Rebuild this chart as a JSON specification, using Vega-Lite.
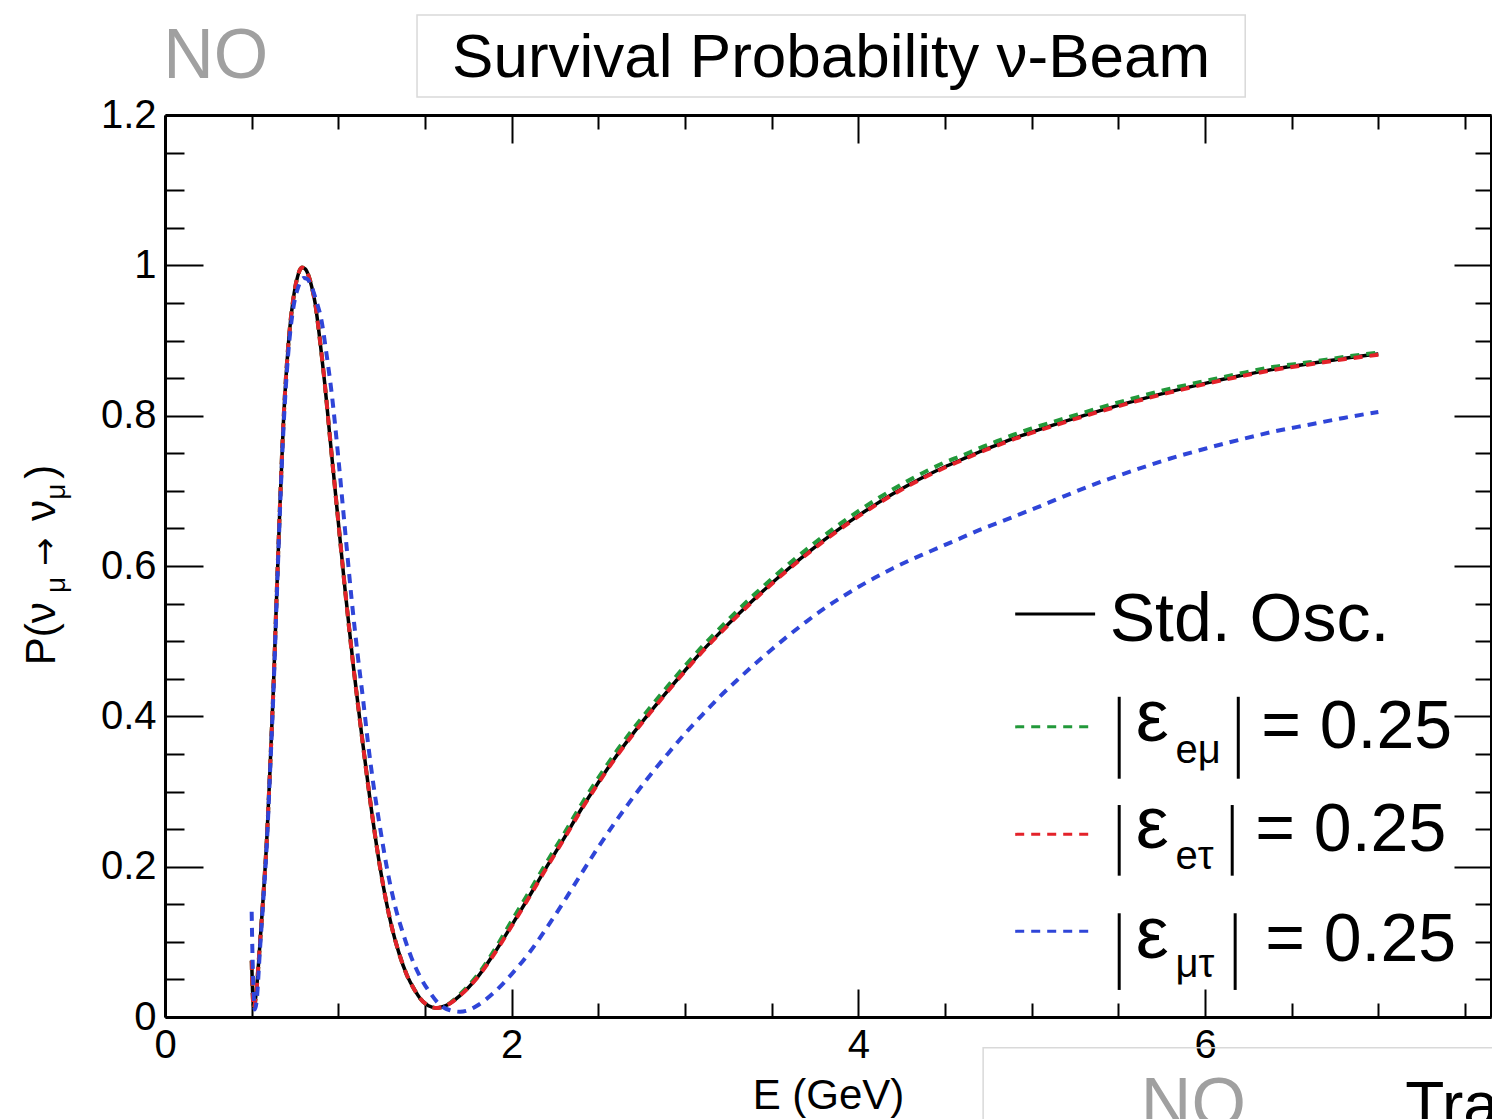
{
  "$schema": "https://vega.github.io/schema/vega-lite/v6.json",
  "width": 1326,
  "height": 902,
  "autosize": {"type": "none"},
  "padding": {"left": 165, "top": 115, "right": 1, "bottom": 102},
  "background": "white",
  "config": {"view": {"stroke": null}, "font": "Liberation Sans"},
  "datasets": {
    "curves": [
      {"E":0.5,"P":0.075,"s":"std"},{"E":0.505,"P":0.035,"s":"std"},{"E":0.513,"P":0.012,"s":"std"},{"E":0.525,"P":0.03,"s":"std"},{"E":0.548,"P":0.098,"s":"std"},{"E":0.567,"P":0.16,"s":"std"},{"E":0.587,"P":0.235,"s":"std"},{"E":0.606,"P":0.33,"s":"std"},{"E":0.625,"P":0.435,"s":"std"},{"E":0.644,"P":0.56,"s":"std"},{"E":0.664,"P":0.685,"s":"std"},{"E":0.683,"P":0.79,"s":"std"},{"E":0.71,"P":0.89,"s":"std"},{"E":0.74,"P":0.955,"s":"std"},{"E":0.765,"P":0.985,"s":"std"},{"E":0.79,"P":0.997,"s":"std"},{"E":0.81,"P":0.995,"s":"std"},{"E":0.83,"P":0.985,"s":"std"},{"E":0.846,"P":0.972,"s":"std"},{"E":0.866,"P":0.95,"s":"std"},{"E":0.894,"P":0.9,"s":"std"},{"E":0.923,"P":0.84,"s":"std"},{"E":0.95,"P":0.775,"s":"std"},{"E":0.98,"P":0.705,"s":"std"},{"E":1.01,"P":0.635,"s":"std"},{"E":1.039,"P":0.568,"s":"std"},{"E":1.087,"P":0.466,"s":"std"},{"E":1.135,"P":0.375,"s":"std"},{"E":1.183,"P":0.289,"s":"std"},{"E":1.24,"P":0.2,"s":"std"},{"E":1.308,"P":0.12,"s":"std"},{"E":1.35,"P":0.085,"s":"std"},{"E":1.395,"P":0.056,"s":"std"},{"E":1.44,"P":0.036,"s":"std"},{"E":1.471,"P":0.025,"s":"std"},{"E":1.52,"P":0.015,"s":"std"},{"E":1.568,"P":0.012,"s":"std"},{"E":1.62,"P":0.015,"s":"std"},{"E":1.7,"P":0.028,"s":"std"},{"E":1.8,"P":0.052,"s":"std"},{"E":1.9,"P":0.085,"s":"std"},{"E":2.0,"P":0.122,"s":"std"},{"E":2.1,"P":0.16,"s":"std"},{"E":2.2,"P":0.199,"s":"std"},{"E":2.3,"P":0.237,"s":"std"},{"E":2.4,"P":0.276,"s":"std"},{"E":2.5,"P":0.312,"s":"std"},{"E":2.6,"P":0.346,"s":"std"},{"E":2.7,"P":0.377,"s":"std"},{"E":2.8,"P":0.406,"s":"std"},{"E":2.9,"P":0.434,"s":"std"},{"E":3.0,"P":0.461,"s":"std"},{"E":3.1,"P":0.487,"s":"std"},{"E":3.2,"P":0.511,"s":"std"},{"E":3.3,"P":0.534,"s":"std"},{"E":3.4,"P":0.556,"s":"std"},{"E":3.5,"P":0.577,"s":"std"},{"E":3.6,"P":0.597,"s":"std"},{"E":3.7,"P":0.616,"s":"std"},{"E":3.8,"P":0.634,"s":"std"},{"E":3.9,"P":0.651,"s":"std"},{"E":4.0,"P":0.667,"s":"std"},{"E":4.1,"P":0.682,"s":"std"},{"E":4.2,"P":0.696,"s":"std"},{"E":4.3,"P":0.709,"s":"std"},{"E":4.4,"P":0.721,"s":"std"},{"E":4.5,"P":0.732,"s":"std"},{"E":4.6,"P":0.742,"s":"std"},{"E":4.7,"P":0.752,"s":"std"},{"E":4.8,"P":0.761,"s":"std"},{"E":4.9,"P":0.77,"s":"std"},{"E":5.0,"P":0.778,"s":"std"},{"E":5.2,"P":0.793,"s":"std"},{"E":5.4,"P":0.807,"s":"std"},{"E":5.6,"P":0.82,"s":"std"},{"E":5.8,"P":0.832,"s":"std"},{"E":6.0,"P":0.843,"s":"std"},{"E":6.2,"P":0.853,"s":"std"},{"E":6.4,"P":0.862,"s":"std"},{"E":6.6,"P":0.869,"s":"std"},{"E":6.8,"P":0.876,"s":"std"},{"E":7.0,"P":0.882,"s":"std"},

      {"E":0.5,"P":0.075,"s":"emu"},{"E":0.505,"P":0.035,"s":"emu"},{"E":0.513,"P":0.012,"s":"emu"},{"E":0.525,"P":0.03,"s":"emu"},{"E":0.548,"P":0.098,"s":"emu"},{"E":0.567,"P":0.16,"s":"emu"},{"E":0.587,"P":0.235,"s":"emu"},{"E":0.606,"P":0.33,"s":"emu"},{"E":0.625,"P":0.435,"s":"emu"},{"E":0.644,"P":0.56,"s":"emu"},{"E":0.664,"P":0.685,"s":"emu"},{"E":0.683,"P":0.79,"s":"emu"},{"E":0.71,"P":0.89,"s":"emu"},{"E":0.74,"P":0.955,"s":"emu"},{"E":0.765,"P":0.985,"s":"emu"},{"E":0.79,"P":0.997,"s":"emu"},{"E":0.81,"P":0.995,"s":"emu"},{"E":0.83,"P":0.985,"s":"emu"},{"E":0.846,"P":0.972,"s":"emu"},{"E":0.866,"P":0.95,"s":"emu"},{"E":0.894,"P":0.9,"s":"emu"},{"E":0.923,"P":0.84,"s":"emu"},{"E":0.95,"P":0.775,"s":"emu"},{"E":0.98,"P":0.705,"s":"emu"},{"E":1.01,"P":0.635,"s":"emu"},{"E":1.039,"P":0.568,"s":"emu"},{"E":1.087,"P":0.466,"s":"emu"},{"E":1.135,"P":0.375,"s":"emu"},{"E":1.183,"P":0.289,"s":"emu"},{"E":1.24,"P":0.2,"s":"emu"},{"E":1.308,"P":0.12,"s":"emu"},{"E":1.35,"P":0.085,"s":"emu"},{"E":1.395,"P":0.056,"s":"emu"},{"E":1.44,"P":0.036,"s":"emu"},{"E":1.471,"P":0.025,"s":"emu"},{"E":1.52,"P":0.015,"s":"emu"},{"E":1.568,"P":0.012,"s":"emu"},{"E":1.62,"P":0.015,"s":"emu"},{"E":1.7,"P":0.03,"s":"emu"},{"E":1.8,"P":0.055,"s":"emu"},{"E":1.9,"P":0.089,"s":"emu"},{"E":2.0,"P":0.128,"s":"emu"},{"E":2.1,"P":0.166,"s":"emu"},{"E":2.2,"P":0.205,"s":"emu"},{"E":2.3,"P":0.243,"s":"emu"},{"E":2.4,"P":0.282,"s":"emu"},{"E":2.5,"P":0.318,"s":"emu"},{"E":2.6,"P":0.352,"s":"emu"},{"E":2.7,"P":0.383,"s":"emu"},{"E":2.8,"P":0.412,"s":"emu"},{"E":2.9,"P":0.44,"s":"emu"},{"E":3.0,"P":0.467,"s":"emu"},{"E":3.1,"P":0.493,"s":"emu"},{"E":3.2,"P":0.517,"s":"emu"},{"E":3.3,"P":0.54,"s":"emu"},{"E":3.4,"P":0.562,"s":"emu"},{"E":3.5,"P":0.583,"s":"emu"},{"E":3.6,"P":0.603,"s":"emu"},{"E":3.7,"P":0.622,"s":"emu"},{"E":3.8,"P":0.64,"s":"emu"},{"E":3.9,"P":0.657,"s":"emu"},{"E":4.0,"P":0.673,"s":"emu"},{"E":4.1,"P":0.688,"s":"emu"},{"E":4.2,"P":0.702,"s":"emu"},{"E":4.3,"P":0.715,"s":"emu"},{"E":4.4,"P":0.727,"s":"emu"},{"E":4.5,"P":0.738,"s":"emu"},{"E":4.6,"P":0.747,"s":"emu"},{"E":4.7,"P":0.757,"s":"emu"},{"E":4.8,"P":0.766,"s":"emu"},{"E":4.9,"P":0.775,"s":"emu"},{"E":5.0,"P":0.783,"s":"emu"},{"E":5.2,"P":0.797,"s":"emu"},{"E":5.4,"P":0.811,"s":"emu"},{"E":5.6,"P":0.824,"s":"emu"},{"E":5.8,"P":0.836,"s":"emu"},{"E":6.0,"P":0.846,"s":"emu"},{"E":6.2,"P":0.856,"s":"emu"},{"E":6.4,"P":0.865,"s":"emu"},{"E":6.6,"P":0.871,"s":"emu"},{"E":6.8,"P":0.878,"s":"emu"},{"E":7.0,"P":0.884,"s":"emu"},

      {"E":0.5,"P":0.075,"s":"etau"},{"E":0.505,"P":0.035,"s":"etau"},{"E":0.513,"P":0.012,"s":"etau"},{"E":0.525,"P":0.03,"s":"etau"},{"E":0.548,"P":0.098,"s":"etau"},{"E":0.567,"P":0.16,"s":"etau"},{"E":0.587,"P":0.235,"s":"etau"},{"E":0.606,"P":0.33,"s":"etau"},{"E":0.625,"P":0.435,"s":"etau"},{"E":0.644,"P":0.56,"s":"etau"},{"E":0.664,"P":0.685,"s":"etau"},{"E":0.683,"P":0.79,"s":"etau"},{"E":0.71,"P":0.89,"s":"etau"},{"E":0.74,"P":0.955,"s":"etau"},{"E":0.765,"P":0.985,"s":"etau"},{"E":0.79,"P":0.997,"s":"etau"},{"E":0.81,"P":0.995,"s":"etau"},{"E":0.83,"P":0.985,"s":"etau"},{"E":0.846,"P":0.972,"s":"etau"},{"E":0.866,"P":0.95,"s":"etau"},{"E":0.894,"P":0.9,"s":"etau"},{"E":0.923,"P":0.84,"s":"etau"},{"E":0.95,"P":0.775,"s":"etau"},{"E":0.98,"P":0.705,"s":"etau"},{"E":1.01,"P":0.635,"s":"etau"},{"E":1.039,"P":0.568,"s":"etau"},{"E":1.087,"P":0.466,"s":"etau"},{"E":1.135,"P":0.375,"s":"etau"},{"E":1.183,"P":0.289,"s":"etau"},{"E":1.24,"P":0.2,"s":"etau"},{"E":1.308,"P":0.12,"s":"etau"},{"E":1.35,"P":0.085,"s":"etau"},{"E":1.395,"P":0.056,"s":"etau"},{"E":1.44,"P":0.036,"s":"etau"},{"E":1.471,"P":0.025,"s":"etau"},{"E":1.52,"P":0.015,"s":"etau"},{"E":1.568,"P":0.012,"s":"etau"},{"E":1.62,"P":0.015,"s":"etau"},{"E":1.7,"P":0.028,"s":"etau"},{"E":1.8,"P":0.052,"s":"etau"},{"E":1.9,"P":0.084,"s":"etau"},{"E":2.0,"P":0.121,"s":"etau"},{"E":2.1,"P":0.159,"s":"etau"},{"E":2.2,"P":0.198,"s":"etau"},{"E":2.3,"P":0.236,"s":"etau"},{"E":2.4,"P":0.275,"s":"etau"},{"E":2.5,"P":0.311,"s":"etau"},{"E":2.6,"P":0.345,"s":"etau"},{"E":2.7,"P":0.376,"s":"etau"},{"E":2.8,"P":0.405,"s":"etau"},{"E":2.9,"P":0.433,"s":"etau"},{"E":3.0,"P":0.46,"s":"etau"},{"E":3.1,"P":0.486,"s":"etau"},{"E":3.2,"P":0.51,"s":"etau"},{"E":3.3,"P":0.533,"s":"etau"},{"E":3.4,"P":0.555,"s":"etau"},{"E":3.5,"P":0.576,"s":"etau"},{"E":3.6,"P":0.596,"s":"etau"},{"E":3.7,"P":0.615,"s":"etau"},{"E":3.8,"P":0.633,"s":"etau"},{"E":3.9,"P":0.65,"s":"etau"},{"E":4.0,"P":0.666,"s":"etau"},{"E":4.1,"P":0.681,"s":"etau"},{"E":4.2,"P":0.695,"s":"etau"},{"E":4.3,"P":0.708,"s":"etau"},{"E":4.4,"P":0.72,"s":"etau"},{"E":4.5,"P":0.731,"s":"etau"},{"E":4.6,"P":0.741,"s":"etau"},{"E":4.7,"P":0.751,"s":"etau"},{"E":4.8,"P":0.76,"s":"etau"},{"E":4.9,"P":0.769,"s":"etau"},{"E":5.0,"P":0.777,"s":"etau"},{"E":5.2,"P":0.792,"s":"etau"},{"E":5.4,"P":0.806,"s":"etau"},{"E":5.6,"P":0.819,"s":"etau"},{"E":5.8,"P":0.831,"s":"etau"},{"E":6.0,"P":0.842,"s":"etau"},{"E":6.2,"P":0.852,"s":"etau"},{"E":6.4,"P":0.861,"s":"etau"},{"E":6.6,"P":0.868,"s":"etau"},{"E":6.8,"P":0.875,"s":"etau"},{"E":7.0,"P":0.881,"s":"etau"},

      {"E":0.5,"P":0.14,"s":"mutau"},{"E":0.504,"P":0.09,"s":"mutau"},{"E":0.51,"P":0.04,"s":"mutau"},{"E":0.518,"P":0.01,"s":"mutau"},{"E":0.528,"P":0.02,"s":"mutau"},{"E":0.548,"P":0.09,"s":"mutau"},{"E":0.567,"P":0.155,"s":"mutau"},{"E":0.587,"P":0.228,"s":"mutau"},{"E":0.606,"P":0.325,"s":"mutau"},{"E":0.625,"P":0.428,"s":"mutau"},{"E":0.644,"P":0.552,"s":"mutau"},{"E":0.664,"P":0.678,"s":"mutau"},{"E":0.683,"P":0.78,"s":"mutau"},{"E":0.71,"P":0.88,"s":"mutau"},{"E":0.74,"P":0.943,"s":"mutau"},{"E":0.77,"P":0.972,"s":"mutau"},{"E":0.8,"P":0.983,"s":"mutau"},{"E":0.82,"P":0.982,"s":"mutau"},{"E":0.845,"P":0.972,"s":"mutau"},{"E":0.87,"P":0.955,"s":"mutau"},{"E":0.904,"P":0.925,"s":"mutau"},{"E":0.93,"P":0.885,"s":"mutau"},{"E":0.962,"P":0.829,"s":"mutau"},{"E":1.0,"P":0.744,"s":"mutau"},{"E":1.029,"P":0.672,"s":"mutau"},{"E":1.048,"P":0.625,"s":"mutau"},{"E":1.077,"P":0.555,"s":"mutau"},{"E":1.11,"P":0.485,"s":"mutau"},{"E":1.144,"P":0.42,"s":"mutau"},{"E":1.172,"P":0.363,"s":"mutau"},{"E":1.202,"P":0.31,"s":"mutau"},{"E":1.24,"P":0.253,"s":"mutau"},{"E":1.279,"P":0.2,"s":"mutau"},{"E":1.325,"P":0.15,"s":"mutau"},{"E":1.375,"P":0.11,"s":"mutau"},{"E":1.42,"P":0.08,"s":"mutau"},{"E":1.471,"P":0.054,"s":"mutau"},{"E":1.53,"P":0.032,"s":"mutau"},{"E":1.587,"P":0.016,"s":"mutau"},{"E":1.645,"P":0.009,"s":"mutau"},{"E":1.702,"P":0.007,"s":"mutau"},{"E":1.76,"P":0.01,"s":"mutau"},{"E":1.8,"P":0.015,"s":"mutau"},{"E":1.9,"P":0.033,"s":"mutau"},{"E":2.0,"P":0.057,"s":"mutau"},{"E":2.1,"P":0.085,"s":"mutau"},{"E":2.2,"P":0.118,"s":"mutau"},{"E":2.3,"P":0.153,"s":"mutau"},{"E":2.4,"P":0.19,"s":"mutau"},{"E":2.5,"P":0.226,"s":"mutau"},{"E":2.6,"P":0.26,"s":"mutau"},{"E":2.7,"P":0.292,"s":"mutau"},{"E":2.8,"P":0.322,"s":"mutau"},{"E":2.9,"P":0.35,"s":"mutau"},{"E":3.0,"P":0.377,"s":"mutau"},{"E":3.1,"P":0.402,"s":"mutau"},{"E":3.2,"P":0.426,"s":"mutau"},{"E":3.3,"P":0.448,"s":"mutau"},{"E":3.4,"P":0.469,"s":"mutau"},{"E":3.5,"P":0.489,"s":"mutau"},{"E":3.6,"P":0.508,"s":"mutau"},{"E":3.7,"P":0.526,"s":"mutau"},{"E":3.8,"P":0.543,"s":"mutau"},{"E":3.9,"P":0.558,"s":"mutau"},{"E":4.0,"P":0.572,"s":"mutau"},{"E":4.1,"P":0.585,"s":"mutau"},{"E":4.2,"P":0.597,"s":"mutau"},{"E":4.3,"P":0.608,"s":"mutau"},{"E":4.4,"P":0.618,"s":"mutau"},{"E":4.5,"P":0.628,"s":"mutau"},{"E":4.6,"P":0.638,"s":"mutau"},{"E":4.7,"P":0.648,"s":"mutau"},{"E":4.8,"P":0.657,"s":"mutau"},{"E":4.9,"P":0.666,"s":"mutau"},{"E":5.0,"P":0.675,"s":"mutau"},{"E":5.2,"P":0.694,"s":"mutau"},{"E":5.4,"P":0.712,"s":"mutau"},{"E":5.6,"P":0.728,"s":"mutau"},{"E":5.8,"P":0.743,"s":"mutau"},{"E":6.0,"P":0.756,"s":"mutau"},{"E":6.2,"P":0.768,"s":"mutau"},{"E":6.4,"P":0.779,"s":"mutau"},{"E":6.6,"P":0.788,"s":"mutau"},{"E":6.8,"P":0.797,"s":"mutau"},{"E":7.0,"P":0.805,"s":"mutau"}
    ]
  },
  "layer": [
    {
      "data": {"name": "curves"},
      "transform": [{"filter": "datum.s === 'std'"}],
      "mark": {"type": "line", "color": "black", "strokeWidth": 3.5, "interpolate": "monotone"},
      "encoding": {
        "x": {
          "field": "E", "type": "quantitative",
          "scale": {"domain": [0, 7.65], "nice": false, "zero": false},
          "axis": {
            "orient": "bottom", "title": "E (GeV)", "grid": false,
            "values": [0, 2, 4, 6], "format": "~g",
            "tickSize": -28, "tickColor": "black", "tickWidth": 2,
            "domainColor": "black", "domainWidth": 3,
            "labelFont": "Liberation Sans", "labelFontSize": 40, "labelColor": "black",
            "labelPadding": 36, "labelFlush": false, "labelOverlap": false, "labelBound": false,
            "titleFont": "Liberation Sans", "titleFontSize": 42, "titleFontWeight": "normal",
            "titleColor": "black", "titlePadding": 10
          }
        },
        "y": {
          "field": "P", "type": "quantitative",
          "scale": {"domain": [0, 1.2], "nice": false, "zero": false},
          "axis": {
            "orient": "left", "title": null, "grid": false,
            "values": [0, 0.2, 0.4, 0.6, 0.8, 1, 1.2], "format": "~g",
            "tickSize": -38, "tickColor": "black", "tickWidth": 2,
            "domainColor": "black", "domainWidth": 3,
            "labelFont": "Liberation Sans", "labelFontSize": 40, "labelColor": "black",
            "labelPadding": 47, "labelFlush": false, "labelOverlap": false, "labelBound": false
          }
        }
      }
    },
    {
      "data": {"name": "curves"},
      "transform": [{"filter": "datum.s === 'emu'"}],
      "mark": {"type": "line", "color": "#22993a", "strokeWidth": 4, "strokeDash": [9, 7], "interpolate": "monotone"},
      "encoding": {
        "x": {
          "field": "E", "type": "quantitative",
          "scale": {"domain": [0, 7.65], "nice": false, "zero": false},
          "axis": {
            "orient": "top", "title": null, "labels": false, "grid": false,
            "values": [0, 2, 4, 6],
            "tickSize": -28, "tickColor": "black", "tickWidth": 2,
            "domainColor": "black", "domainWidth": 3
          }
        },
        "y": {
          "field": "P", "type": "quantitative",
          "scale": {"domain": [0, 1.2], "nice": false, "zero": false},
          "axis": {
            "orient": "right", "title": null, "labels": false, "grid": false,
            "values": [0, 0.2, 0.4, 0.6, 0.8, 1, 1.2],
            "tickSize": -37, "tickColor": "black", "tickWidth": 2,
            "domainColor": "black", "domainWidth": 3
          }
        }
      }
    },
    {
      "data": {"name": "curves"},
      "transform": [{"filter": "datum.s === 'etau'"}],
      "mark": {"type": "line", "color": "#e3222a", "strokeWidth": 4, "strokeDash": [9, 7], "interpolate": "monotone"},
      "encoding": {
        "x": {
          "field": "E", "type": "quantitative",
          "axis": {
            "orient": "bottom", "title": null, "labels": false, "grid": false, "domain": false,
            "values": [0.5, 1, 1.5, 2.5, 3, 3.5, 4.5, 5, 5.5, 6.5, 7, 7.5],
            "tickSize": -14, "tickColor": "black", "tickWidth": 2
          }
        },
        "y": {
          "field": "P", "type": "quantitative",
          "axis": {
            "orient": "left", "title": null, "labels": false, "grid": false, "domain": false,
            "values": [0.05, 0.1, 0.15, 0.25, 0.3, 0.35, 0.45, 0.5, 0.55, 0.65, 0.7, 0.75, 0.85, 0.9, 0.95, 1.05, 1.1, 1.15],
            "tickSize": -19, "tickColor": "black", "tickWidth": 2
          }
        }
      }
    },
    {
      "data": {"name": "curves"},
      "transform": [{"filter": "datum.s === 'mutau'"}],
      "mark": {"type": "line", "color": "#2f45d8", "strokeWidth": 4, "strokeDash": [9, 7], "interpolate": "monotone"},
      "encoding": {
        "x": {
          "field": "E", "type": "quantitative",
          "axis": {
            "orient": "top", "title": null, "labels": false, "grid": false, "domain": false,
            "values": [0.5, 1, 1.5, 2.5, 3, 3.5, 4.5, 5, 5.5, 6.5, 7, 7.5],
            "tickSize": -14, "tickColor": "black", "tickWidth": 2
          }
        },
        "y": {
          "field": "P", "type": "quantitative",
          "axis": {
            "orient": "right", "title": null, "labels": false, "grid": false, "domain": false,
            "values": [0.05, 0.1, 0.15, 0.25, 0.3, 0.35, 0.45, 0.5, 0.55, 0.65, 0.7, 0.75, 0.85, 0.9, 0.95, 1.05, 1.1, 1.15],
            "tickSize": -16, "tickColor": "black", "tickWidth": 2
          }
        }
      }
    },

    {
      "data": {"values": [{"t": "Std. Osc."}]},
      "mark": {"type": "rule", "color": "black", "strokeWidth": 3},
      "encoding": {"x": {"datum": 4.905, "axis": null}, "x2": {"datum": 5.366}, "y": {"datum": 0.536, "axis": null}}
    },
    {
      "data": {"values": [{"t": "Std. Osc."}]},
      "mark": {"type": "text", "align": "left", "baseline": "alphabetic", "fontSize": 68, "font": "Liberation Sans", "color": "black"},
      "encoding": {"x": {"datum": 5.45, "axis": null}, "y": {"datum": 0.5, "axis": null}, "text": {"field": "t"}}
    },

    {
      "data": {"values": [{"t": "emu"}]},
      "mark": {"type": "rule", "color": "#22993a", "strokeWidth": 3, "strokeDash": [9, 7]},
      "encoding": {"x": {"datum": 4.905, "axis": null}, "x2": {"datum": 5.366}, "y": {"datum": 0.386, "axis": null}}
    },
    {
      "data": {"values": [{"t": "|"}]},
      "mark": {"type": "rule", "color": "black", "strokeWidth": 3},
      "encoding": {"x": {"datum": 5.505, "axis": null}, "y": {"datum": 0.317, "axis": null}, "y2": {"datum": 0.426}}
    },
    {
      "data": {"values": [{"t": "ε"}]},
      "mark": {"type": "text", "align": "left", "baseline": "alphabetic", "fontSize": 74, "font": "Liberation Sans", "color": "black"},
      "encoding": {"x": {"datum": 5.6, "axis": null}, "y": {"datum": 0.367, "axis": null}, "text": {"field": "t"}}
    },
    {
      "data": {"values": [{"t": "eμ"}]},
      "mark": {"type": "text", "align": "left", "baseline": "alphabetic", "fontSize": 40, "font": "Liberation Sans", "color": "black"},
      "encoding": {"x": {"datum": 5.83, "axis": null}, "y": {"datum": 0.338, "axis": null}, "text": {"field": "t"}}
    },
    {
      "data": {"values": [{"t": "|"}]},
      "mark": {"type": "rule", "color": "black", "strokeWidth": 3},
      "encoding": {"x": {"datum": 6.192, "axis": null}, "y": {"datum": 0.317, "axis": null}, "y2": {"datum": 0.426}}
    },
    {
      "data": {"values": [{"t": "= 0.25"}]},
      "mark": {"type": "text", "align": "left", "baseline": "alphabetic", "fontSize": 68, "font": "Liberation Sans", "color": "black"},
      "encoding": {"x": {"datum": 6.324, "axis": null}, "y": {"datum": 0.358, "axis": null}, "text": {"field": "t"}}
    },

    {
      "data": {"values": [{"t": "etau"}]},
      "mark": {"type": "rule", "color": "#e3222a", "strokeWidth": 3, "strokeDash": [9, 7]},
      "encoding": {"x": {"datum": 4.905, "axis": null}, "x2": {"datum": 5.366}, "y": {"datum": 0.243, "axis": null}}
    },
    {
      "data": {"values": [{"t": "|"}]},
      "mark": {"type": "rule", "color": "black", "strokeWidth": 3},
      "encoding": {"x": {"datum": 5.505, "axis": null}, "y": {"datum": 0.188, "axis": null}, "y2": {"datum": 0.282}}
    },
    {
      "data": {"values": [{"t": "ε"}]},
      "mark": {"type": "text", "align": "left", "baseline": "alphabetic", "fontSize": 74, "font": "Liberation Sans", "color": "black"},
      "encoding": {"x": {"datum": 5.6, "axis": null}, "y": {"datum": 0.225, "axis": null}, "text": {"field": "t"}}
    },
    {
      "data": {"values": [{"t": "eτ"}]},
      "mark": {"type": "text", "align": "left", "baseline": "alphabetic", "fontSize": 40, "font": "Liberation Sans", "color": "black"},
      "encoding": {"x": {"datum": 5.83, "axis": null}, "y": {"datum": 0.197, "axis": null}, "text": {"field": "t"}}
    },
    {
      "data": {"values": [{"t": "|"}]},
      "mark": {"type": "rule", "color": "black", "strokeWidth": 3},
      "encoding": {"x": {"datum": 6.157, "axis": null}, "y": {"datum": 0.188, "axis": null}, "y2": {"datum": 0.282}}
    },
    {
      "data": {"values": [{"t": "= 0.25"}]},
      "mark": {"type": "text", "align": "left", "baseline": "alphabetic", "fontSize": 68, "font": "Liberation Sans", "color": "black"},
      "encoding": {"x": {"datum": 6.29, "axis": null}, "y": {"datum": 0.221, "axis": null}, "text": {"field": "t"}}
    },

    {
      "data": {"values": [{"t": "mutau"}]},
      "mark": {"type": "rule", "color": "#2f45d8", "strokeWidth": 3, "strokeDash": [9, 7]},
      "encoding": {"x": {"datum": 4.905, "axis": null}, "x2": {"datum": 5.366}, "y": {"datum": 0.114, "axis": null}}
    },
    {
      "data": {"values": [{"t": "|"}]},
      "mark": {"type": "rule", "color": "black", "strokeWidth": 3},
      "encoding": {"x": {"datum": 5.505, "axis": null}, "y": {"datum": 0.036, "axis": null}, "y2": {"datum": 0.138}}
    },
    {
      "data": {"values": [{"t": "ε"}]},
      "mark": {"type": "text", "align": "left", "baseline": "alphabetic", "fontSize": 74, "font": "Liberation Sans", "color": "black"},
      "encoding": {"x": {"datum": 5.6, "axis": null}, "y": {"datum": 0.078, "axis": null}, "text": {"field": "t"}}
    },
    {
      "data": {"values": [{"t": "μτ"}]},
      "mark": {"type": "text", "align": "left", "baseline": "alphabetic", "fontSize": 40, "font": "Liberation Sans", "color": "black"},
      "encoding": {"x": {"datum": 5.83, "axis": null}, "y": {"datum": 0.053, "axis": null}, "text": {"field": "t"}}
    },
    {
      "data": {"values": [{"t": "|"}]},
      "mark": {"type": "rule", "color": "black", "strokeWidth": 3},
      "encoding": {"x": {"datum": 6.174, "axis": null}, "y": {"datum": 0.036, "axis": null}, "y2": {"datum": 0.138}}
    },
    {
      "data": {"values": [{"t": "= 0.25"}]},
      "mark": {"type": "text", "align": "left", "baseline": "alphabetic", "fontSize": 68, "font": "Liberation Sans", "color": "black"},
      "encoding": {"x": {"datum": 6.347, "axis": null}, "y": {"datum": 0.0745, "axis": null}, "text": {"field": "t"}}
    },

    {
      "data": {"values": [{"t": "P(ν"}]},
      "mark": {"type": "text", "align": "left", "baseline": "alphabetic", "angle": 270, "fontSize": 42, "font": "Liberation Sans", "color": "black"},
      "encoding": {"x": {"datum": -0.635, "axis": null}, "y": {"datum": 0.468, "axis": null}, "text": {"field": "t"}}
    },
    {
      "data": {"values": [{"t": "μ"}]},
      "mark": {"type": "text", "align": "left", "baseline": "alphabetic", "angle": 270, "fontSize": 28, "font": "Liberation Sans", "color": "black"},
      "encoding": {"x": {"datum": -0.577, "axis": null}, "y": {"datum": 0.564, "axis": null}, "text": {"field": "t"}}
    },
    {
      "data": {"values": [{"t": "→"}]},
      "mark": {"type": "text", "align": "left", "baseline": "alphabetic", "angle": 270, "fontSize": 34, "font": "DejaVu Sans", "color": "black"},
      "encoding": {"x": {"datum": -0.63, "axis": null}, "y": {"datum": 0.6, "axis": null}, "text": {"field": "t"}}
    },
    {
      "data": {"values": [{"t": "ν"}]},
      "mark": {"type": "text", "align": "left", "baseline": "alphabetic", "angle": 270, "fontSize": 42, "font": "Liberation Sans", "color": "black"},
      "encoding": {"x": {"datum": -0.635, "axis": null}, "y": {"datum": 0.66, "axis": null}, "text": {"field": "t"}}
    },
    {
      "data": {"values": [{"t": "μ"}]},
      "mark": {"type": "text", "align": "left", "baseline": "alphabetic", "angle": 270, "fontSize": 28, "font": "Liberation Sans", "color": "black"},
      "encoding": {"x": {"datum": -0.577, "axis": null}, "y": {"datum": 0.688, "axis": null}, "text": {"field": "t"}}
    },
    {
      "data": {"values": [{"t": ")"}]},
      "mark": {"type": "text", "align": "left", "baseline": "alphabetic", "angle": 270, "fontSize": 42, "font": "Liberation Sans", "color": "black"},
      "encoding": {"x": {"datum": -0.635, "axis": null}, "y": {"datum": 0.716, "axis": null}, "text": {"field": "t"}}
    },

    {
      "data": {"values": [{"t": "title box"}]},
      "mark": {"type": "rect", "fill": "white", "stroke": "#d9d9d9", "strokeWidth": 1.5},
      "encoding": {"x": {"datum": 1.454, "axis": null}, "x2": {"datum": 6.232}, "y": {"datum": 1.224, "axis": null}, "y2": {"datum": 1.333}}
    },
    {
      "data": {"values": [{"t": "Survival Probability ν-Beam"}]},
      "mark": {"type": "text", "align": "center", "baseline": "alphabetic", "fontSize": 62, "font": "Liberation Sans", "color": "black"},
      "encoding": {"x": {"datum": 3.843, "axis": null}, "y": {"datum": 1.2505, "axis": null}, "text": {"field": "t"}}
    },
    {
      "data": {"values": [{"t": "NO"}]},
      "mark": {"type": "text", "align": "left", "baseline": "alphabetic", "fontSize": 70, "font": "Liberation Sans", "color": "#a0a0a0"},
      "encoding": {"x": {"datum": -0.01, "axis": null}, "y": {"datum": 1.249, "axis": null}, "text": {"field": "t"}}
    },

    {
      "data": {"values": [{"t": "neighbour panel"}]},
      "mark": {"type": "rect", "fill": null, "fillOpacity": 0, "stroke": "#d9d9d9", "strokeWidth": 1.5},
      "encoding": {"x": {"datum": 4.72, "axis": null}, "x2": {"datum": 7.9}, "y": {"datum": -0.041, "axis": null}, "y2": {"datum": -0.17}}
    },
    {
      "data": {"values": [{"t": "NO"}]},
      "mark": {"type": "text", "align": "left", "baseline": "alphabetic", "fontSize": 70, "font": "Liberation Sans", "color": "#a0a0a0"},
      "encoding": {"x": {"datum": 5.63, "axis": null}, "y": {"datum": -0.146, "axis": null}, "text": {"field": "t"}}
    },
    {
      "data": {"values": [{"t": "Tra"}]},
      "mark": {"type": "text", "align": "left", "baseline": "alphabetic", "fontSize": 64, "font": "Liberation Sans", "color": "black"},
      "encoding": {"x": {"datum": 7.155, "axis": null}, "y": {"datum": -0.146, "axis": null}, "text": {"field": "t"}}
    }
  ],
  "resolve": {"axis": {"x": "independent", "y": "independent"}}
}
